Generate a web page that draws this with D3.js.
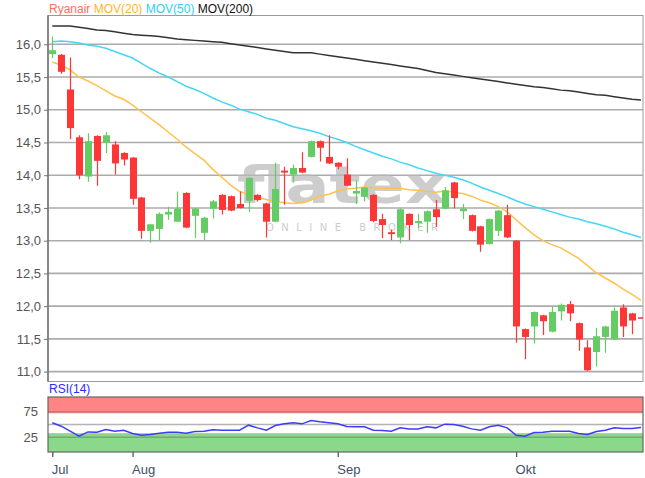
<!DOCTYPE html>
<html>
<head>
<meta charset="utf-8">
<script src="https://cdn.jsdelivr.net/npm/d3@7"></script>
<style>
  html, body { margin: 0; padding: 0; background: #fff; }
  svg { display: block; font-family: "Liberation Sans", Arial, sans-serif; }
</style>
</head>
<body>
<svg id="chart" width="645" height="478"></svg>
<script>
// ---------- DATA ----------
const dayIndex = d3.range(67); // trading days shown (categories)
const monthTickIdx = [0, 9, 32, 52];
const monthLabels = ["Jul", "Aug", "Sep", "Okt"];
const priceTicks = [11.0, 11.5, 12.0, 12.5, 13.0, 13.5, 14.0, 14.5, 15.0, 15.5, 16.0];
const rsiTicks = [25, 75];

const openP  = [15.85,15.84,15.31,14.58,13.98,14.60,14.50,14.47,14.34,14.27,13.66,13.15,13.18,13.40,13.29,13.73,13.38,13.12,13.49,13.70,13.68,13.56,13.61,13.70,13.57,13.29,14.07,14.01,14.11,14.28,14.52,14.28,14.19,14.01,13.72,13.67,13.70,13.33,13.13,13.05,13.41,13.27,13.29,13.48,13.49,13.89,13.45,13.39,13.22,12.95,13.15,13.39,13.00,11.65,11.69,11.86,11.61,11.92,12.03,11.74,11.37,11.30,11.53,11.49,11.98,11.89,11.83];
const highP  = [16.12,15.85,15.80,14.61,14.64,14.61,14.66,14.52,14.35,14.28,13.67,13.26,13.43,13.52,13.75,13.74,13.50,13.36,13.62,13.71,13.69,13.75,13.97,13.71,13.58,14.19,14.13,14.16,14.35,14.53,14.53,14.61,14.20,14.26,13.92,13.82,13.71,13.41,13.17,13.49,13.42,13.41,13.46,13.62,13.82,13.90,13.56,13.40,13.23,13.34,13.47,13.55,13.01,11.66,11.92,11.87,11.99,12.04,12.08,11.75,11.48,11.67,11.70,11.98,12.03,11.90,11.83];
const lowP   = [15.79,15.55,14.55,13.94,13.90,13.84,14.34,14.01,14.15,13.55,13.03,12.97,13.01,13.32,13.29,13.19,13.04,13.01,13.34,13.40,13.45,13.49,13.44,13.60,13.05,13.28,13.55,13.89,14.03,14.27,14.21,14.17,14.09,13.83,13.56,13.60,13.28,13.04,13.01,12.96,13.01,13.19,13.12,13.21,13.48,13.49,13.33,13.14,12.83,12.94,13.07,13.04,11.44,11.19,11.43,11.56,11.60,11.78,11.77,11.32,11.01,11.08,11.29,11.48,11.53,11.57,11.81];
const closeP = [15.91,15.58,14.72,14.00,14.52,14.22,14.61,14.18,14.24,13.64,13.15,13.25,13.41,13.44,13.49,13.20,13.49,13.35,13.60,13.47,13.46,13.50,13.96,13.62,13.29,13.79,14.04,14.11,14.04,14.52,14.42,14.18,14.13,13.84,13.76,13.81,13.30,13.24,13.10,13.48,13.24,13.30,13.45,13.36,13.77,13.65,13.49,13.15,12.94,13.33,13.46,13.05,11.69,11.53,11.91,11.77,11.91,12.02,11.89,11.49,11.02,11.54,11.69,11.93,11.69,11.78,11.82];

const mov20  = [15.73,15.68,15.61,15.50,15.44,15.37,15.29,15.21,15.16,15.07,14.97,14.87,14.77,14.66,14.55,14.43,14.33,14.23,14.09,13.97,13.85,13.75,13.71,13.66,13.63,13.60,13.58,13.57,13.58,13.62,13.68,13.71,13.76,13.79,13.80,13.82,13.81,13.80,13.80,13.80,13.78,13.77,13.75,13.74,13.76,13.74,13.72,13.68,13.62,13.58,13.52,13.44,13.32,13.20,13.09,13.00,12.94,12.89,12.81,12.73,12.62,12.51,12.43,12.35,12.26,12.18,12.09];
const mov50  = [16.04,16.05,16.04,16.02,15.99,15.97,15.94,15.89,15.84,15.79,15.71,15.63,15.56,15.50,15.43,15.36,15.31,15.25,15.18,15.12,15.07,15.01,14.97,14.93,14.87,14.84,14.79,14.74,14.71,14.68,14.64,14.59,14.55,14.50,14.44,14.39,14.34,14.29,14.25,14.20,14.16,14.11,14.07,14.03,14.00,13.97,13.93,13.88,13.82,13.77,13.72,13.67,13.61,13.56,13.52,13.48,13.44,13.40,13.36,13.33,13.29,13.26,13.22,13.18,13.13,13.09,13.05];
const mov200 = [16.28,16.28,16.28,16.26,16.24,16.22,16.21,16.19,16.17,16.15,16.14,16.13,16.12,16.10,16.08,16.07,16.06,16.05,16.04,16.03,16.01,15.99,15.97,15.95,15.93,15.91,15.89,15.87,15.87,15.87,15.85,15.83,15.81,15.79,15.77,15.75,15.73,15.71,15.69,15.67,15.65,15.63,15.60,15.57,15.55,15.53,15.51,15.49,15.47,15.45,15.43,15.41,15.39,15.37,15.35,15.34,15.32,15.30,15.29,15.27,15.25,15.23,15.22,15.20,15.18,15.16,15.15];
const rsi14  = [53.3,46.7,36.8,27.0,35.5,34.9,40.1,36.8,38.8,32.2,28.9,30.3,32.9,34.9,34.9,32.9,36.2,36.8,39.5,38.8,38.8,38.8,48.7,43.4,38.8,48.0,51.3,53.3,51.3,57.9,55.3,53.3,51.3,46.0,45.4,45.4,38.8,38.2,36.8,43.4,41.4,41.4,45.4,43.4,50.7,50.0,46.7,41.4,38.8,45.4,48.7,43.4,28.9,27.0,34.2,34.9,36.8,36.8,36.8,32.2,30.3,36.2,38.8,43.4,42.1,42.1,44.1];

// ---------- LAYOUT ----------
const svg = d3.select("#chart");
const L = 48, R = 643;
const mainTop = 15.5, mainBot = 381.5;
const rsiTop = 397, rsiBot = 452;

svg.append("rect").attr("width", 645).attr("height", 478).attr("fill", "#fff");

const x = d3.scaleLinear().domain([0, 66]).range([52.3, 641]);
const y = d3.scaleLinear().domain([10.849, 16.44]).range([mainBot, mainTop]);
const yr = d3.scaleLinear().domain([-4, 104]).range([rsiBot, rsiTop]);

const defs = svg.append("defs");
defs.append("clipPath").attr("id", "clipMain").append("rect")
  .attr("x", L).attr("y", mainTop).attr("width", R - L).attr("height", mainBot - mainTop);
defs.append("clipPath").attr("id", "clipRsi").append("rect")
  .attr("x", L).attr("y", rsiTop).attr("width", R - L).attr("height", rsiBot - rsiTop);

// ---------- MAIN PANEL ----------
svg.append("rect").attr("x", L).attr("y", mainTop).attr("width", R - L).attr("height", mainBot - mainTop)
  .attr("fill", "#fff").attr("stroke", "#9a9a9a").attr("stroke-width", 1);

svg.append("g").selectAll("line").data(priceTicks).join("line")
  .attr("x1", L).attr("x2", R)
  .attr("y1", d => y(d)).attr("y2", d => y(d))
  .attr("stroke", "#ababab").attr("stroke-width", 1.6);

// watermark
const wm = svg.append("g").attr("fill", "#b8b8b8").attr("opacity", 0.7);
wm.append("text").attr("x", 237).attr("y", 203)
  .attr("font-family", "DejaVu Sans, sans-serif").attr("font-weight", "bold")
  .attr("font-size", 52).attr("textLength", 210).attr("lengthAdjust", "spacingAndGlyphs")
  .text("flatex");
wm.append("text").attr("x", 266).attr("y", 231)
  .attr("font-family", "DejaVu Sans, sans-serif")
  .attr("font-size", 10).attr("textLength", 172).attr("lengthAdjust", "spacing")
  .text("ONLINE BROKER");

const yAxis = svg.append("g").attr("transform", `translate(${L},0)`)
  .call(d3.axisLeft(y).tickValues(priceTicks).tickSize(4).tickPadding(3)
    .tickFormat(d => d.toFixed(1).replace(".", ",")));
yAxis.select(".domain").remove();
yAxis.selectAll(".tick line").attr("stroke", "#777");
yAxis.selectAll(".tick text").attr("fill", "#555").attr("font-size", 13)
  .attr("font-family", "Liberation Sans, Arial, sans-serif");
svg.append("line").attr("x1", L).attr("x2", L).attr("y1", mainTop).attr("y2", mainBot)
  .attr("stroke", "#707070").attr("stroke-width", 1.5);

const plot = svg.append("g").attr("clip-path", "url(#clipMain)");

const lineGen = arr => d3.line().x((d, i) => x(dayIndex[i])).y(d => y(d))(arr);
plot.append("path").attr("d", lineGen(mov200)).attr("fill", "none").attr("stroke", "#333").attr("stroke-width", 1.5);
plot.append("path").attr("d", lineGen(mov50)).attr("fill", "none").attr("stroke", "#45d6f5").attr("stroke-width", 1.5);
plot.append("path").attr("d", lineGen(mov20)).attr("fill", "none").attr("stroke", "#ffc24a").attr("stroke-width", 1.5);

const RED = "#ff3636", GREEN = "#63cc63";
const candles = plot.append("g").selectAll("g").data(dayIndex).join("g");
candles.append("line")
  .attr("x1", i => Math.round(x(i)) + 0.5).attr("x2", i => Math.round(x(i)) + 0.5)
  .attr("y1", i => y(highP[i])).attr("y2", i => y(lowP[i]))
  .attr("stroke", i => closeP[i] >= openP[i] ? GREEN : RED).attr("stroke-width", 1.2);
candles.append("rect")
  .attr("x", i => Math.round(x(i)) - 3)
  .attr("width", 7)
  .attr("y", i => y(Math.max(openP[i], closeP[i])))
  .attr("height", i => Math.max(1.5, Math.abs(y(openP[i]) - y(closeP[i]))))
  .attr("fill", i => closeP[i] >= openP[i] ? GREEN : RED);

// legend
const leg = svg.append("text").attr("x", 49).attr("y", 13).attr("font-size", 12);
[["Ryanair ", "#ff7055"], ["MOV(20) ", "#ffb52e"], ["MOV(50) ", "#33ccf5"], ["MOV(200)", "#111"]]
  .forEach(([t, c]) => leg.append("tspan").attr("fill", c).text(t));

// ---------- RSI PANEL ----------
svg.append("rect").attr("x", L).attr("y", rsiTop).attr("width", R - L).attr("height", rsiBot - rsiTop)
  .attr("fill", "#fff");
const rp = svg.append("g").attr("clip-path", "url(#clipRsi)");
rp.append("rect").attr("x", L).attr("width", R - L)
  .attr("y", yr(104)).attr("height", yr(72) - yr(104)).attr("fill", "#ff8585");
rp.append("rect").attr("x", L).attr("width", R - L)
  .attr("y", yr(33)).attr("height", yr(-4) - yr(33)).attr("fill", "#8ad88a");
rp.selectAll("line.g").data([25, 50, 75]).join("line")
  .attr("x1", L).attr("x2", R).attr("y1", d => yr(d)).attr("y2", d => yr(d))
  .attr("stroke", "#777").attr("stroke-opacity", 0.55).attr("stroke-width", 1.6);
rp.append("path")
  .attr("d", d3.line().x((d, i) => x(dayIndex[i])).y(d => yr(d))(rsi14))
  .attr("fill", "none").attr("stroke", "#3c3cff").attr("stroke-width", 1.5);
svg.append("rect").attr("x", L).attr("y", rsiTop).attr("width", R - L).attr("height", rsiBot - rsiTop)
  .attr("fill", "none").attr("stroke", "#666").attr("stroke-width", 1.2);

svg.append("text").attr("x", 49).attr("y", 393).attr("font-size", 12).attr("fill", "#2a2aff").text("RSI(14)");

const rAxis = svg.append("g").attr("transform", `translate(${L},0)`)
  .call(d3.axisLeft(yr).tickValues(rsiTicks).tickSize(0).tickPadding(10));
rAxis.select(".domain").remove();
rAxis.selectAll(".tick text").attr("fill", "#555").attr("font-size", 13)
  .attr("font-family", "Liberation Sans, Arial, sans-serif");

// x axis
const xAxis = svg.append("g").attr("transform", `translate(0,${rsiBot})`)
  .call(d3.axisBottom(x).tickValues(monthTickIdx).tickSize(5).tickPadding(8)
    .tickFormat((d, i) => monthLabels[i]));
xAxis.select(".domain").remove();
xAxis.selectAll(".tick line").attr("stroke", "#4a5a6e").attr("stroke-width", 1.3);
xAxis.selectAll(".tick text").attr("fill", "#3d4f63").attr("font-size", 13)
  .attr("text-anchor", "start").attr("dx", -1)
  .attr("font-family", "Liberation Sans, Arial, sans-serif");
</script>
</body>
</html>
